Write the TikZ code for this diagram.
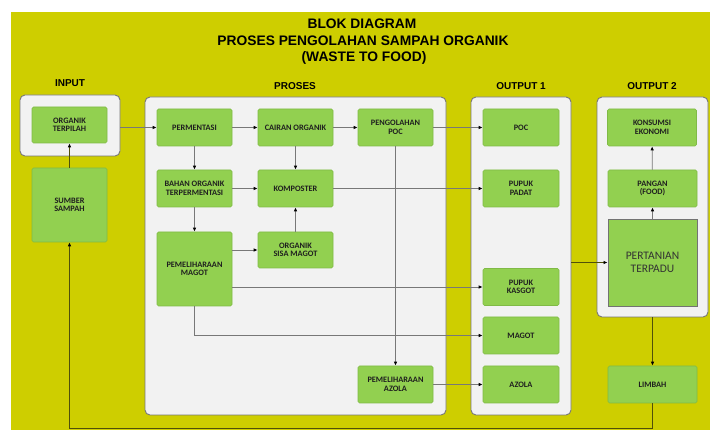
\documentclass[tikz,border=0pt]{standalone}
\usepackage{fontspec}
\setmainfont{Carlito}
\newfontfamily\headfont{Liberation Sans}
\usetikzlibrary{arrows.meta}
\definecolor{bgyellow}{RGB}{206,206,0}
\definecolor{boxgreen}{RGB}{146,208,80}
\definecolor{boxedge}{RGB}{128,186,70}
\definecolor{panel}{RGB}{242,242,242}
\definecolor{paneledge}{RGB}{120,120,120}
\definecolor{lineg}{RGB}{120,120,120}
\definecolor{liney}{RGB}{80,80,10}
\begin{document}
\begin{tikzpicture}[x=1pt,y=-1pt,
  gbox/.style={draw=boxedge,fill=boxgreen,rounded corners=1.5pt,line width=0.6pt,
    font=\bfseries\fontsize{8.3}{8.4}\selectfont,align=center,inner sep=0pt,text=black!88},
  panelbox/.style={draw=paneledge,fill=panel,rounded corners=5pt,line width=0.9pt,inner sep=0pt},
  hdr/.style={font=\headfont\bfseries\fontsize{10}{12}\selectfont},
  ttl/.style={font=\headfont\bfseries\fontsize{13.8}{15}\selectfont},
  conn/.style={draw=lineg,line width=0.8pt,-{Latex[length=4pt,width=3.5pt,color=black]}},
  conny/.style={draw=liney,line width=0.8pt,-{Latex[length=4pt,width=3.5pt,color=black]}},
]
\useasboundingbox (0,0) rectangle (710,430);
\fill[bgyellow] (11,12) rectangle (710,430);

% titles
\node[ttl] (t1) at (362,24) {BLOK DIAGRAM};
\node[ttl] (t2) at (363,41) {PROSES PENGOLAHAN SAMPAH ORGANIK};
\node[ttl] (t3) at (364,58) {(WASTE TO FOOD)};

\node[hdr] (hin) at (70,83) {INPUT};
\node[hdr] (hpro) at (295,86) {PROSES};
\node[hdr] (ho1) at (521,86) {OUTPUT 1};
\node[hdr] (ho2) at (652,86) {OUTPUT 2};

% panels
\node[panelbox,minimum width=100pt,minimum height=61pt] (pin) at (70,125.5) {};
\node[panelbox,minimum width=301pt,minimum height=318pt] (ppro) at (295.5,256) {};
\node[panelbox,minimum width=100pt,minimum height=318pt] (pout1) at (521,256) {};
\node[panelbox,minimum width=111pt,minimum height=220pt] (pout2) at (652.5,207) {};

% input
\node[gbox,minimum width=75pt,minimum height=36pt] (ot) at (69.5,125) {ORGANIK\\TERPILAH};
\node[gbox,minimum width=75pt,minimum height=74pt] (ss) at (69.5,205) {SUMBER\\SAMPAH};

% proses
\node[gbox,minimum width=75pt,minimum height=37pt] (perm) at (194.5,127.5) {PERMENTASI};
\node[gbox,minimum width=75pt,minimum height=37pt] (cair) at (295.5,127.5) {CAIRAN ORGANIK};
\node[gbox,minimum width=75pt,minimum height=37pt] (ppoc) at (395.5,127.5) {PENGOLAHAN\\POC};
\node[gbox,minimum width=75pt,minimum height=37pt] (bahan) at (194.5,188.5) {BAHAN ORGANIK\\TERPERMENTASI};
\node[gbox,minimum width=75pt,minimum height=37pt] (komp) at (295.5,188.5) {KOMPOSTER};
\node[gbox,minimum width=75pt,minimum height=74pt] (pmag) at (194.5,269) {PEMELIHARAAN\\MAGOT};
\node[gbox,minimum width=75pt,minimum height=36pt] (osm) at (295.5,250) {ORGANIK\\SISA MAGOT};
\node[gbox,minimum width=75pt,minimum height=37pt] (paz) at (395.5,384.5) {PEMELIHARAAN\\AZOLA};

% output 1
\node[gbox,minimum width=76pt,minimum height=37pt] (poc) at (521,127.5) {POC};
\node[gbox,minimum width=76pt,minimum height=37pt] (padat) at (521,188.5) {PUPUK\\PADAT};
\node[gbox,minimum width=76pt,minimum height=37pt] (kasgot) at (521,287) {PUPUK\\KASGOT};
\node[gbox,minimum width=76pt,minimum height=37pt] (magot) at (521,335.5) {MAGOT};
\node[gbox,minimum width=76pt,minimum height=37pt] (azola) at (521,384.5) {AZOLA};

% output 2
\node[gbox,minimum width=89pt,minimum height=37pt] (kons) at (652,127.5) {KONSUMSI\\EKONOMI};
\node[gbox,minimum width=89pt,minimum height=37pt] (pangan) at (652.5,188.5) {PANGAN\\(FOOD)};
\node[gbox,draw=black!55,line width=0.9pt,rounded corners=0pt,minimum width=89pt,minimum height=87pt,
  font=\fontsize{11.5}{13}\selectfont,text=black!80] (pert) at (652.5,262.5) {PERTANIAN\\TERPADU};
\node[gbox,minimum width=89pt,minimum height=37pt] (limbah) at (652.5,384.5) {LIMBAH};

% connectors
\coordinate (bot) at (0,428);
\draw[conny] (ss) -- (ot);
\draw[conn] (pin.east |- perm) -- (perm);
\draw[conn] (perm) -- (cair);
\draw[conn] (cair) -- (ppoc);
\draw[conn] (ppoc) -- (poc);
\draw[conn] (perm) -- (bahan);
\draw[conn] (cair) -- (komp);
\draw[conn] (bahan) -- (komp);
\draw[conn] (komp) -- (padat);
\draw[conn] (bahan) -- (pmag);
\draw[conn] (pmag.east |- osm) -- (osm);
\draw[conn] (osm) -- (komp);
\draw[conn] (pmag.east |- kasgot) -- (kasgot);
\draw[conn] (pmag.south) |- (magot.west);
\draw[conn] (ppoc) -- (paz);
\draw[conn] (paz) -- (azola);
\draw[conny] (pout1.east |- pert) -- (pert);
\draw[conn] (pert) -- (pangan);
\draw[conn] (pangan) -- (kons);
\draw[conny] (pout2.south -| limbah) -- (limbah);
\draw[conny] (limbah.south) |- (bot -| ss) -- (ss);
\end{tikzpicture}
\end{document}
